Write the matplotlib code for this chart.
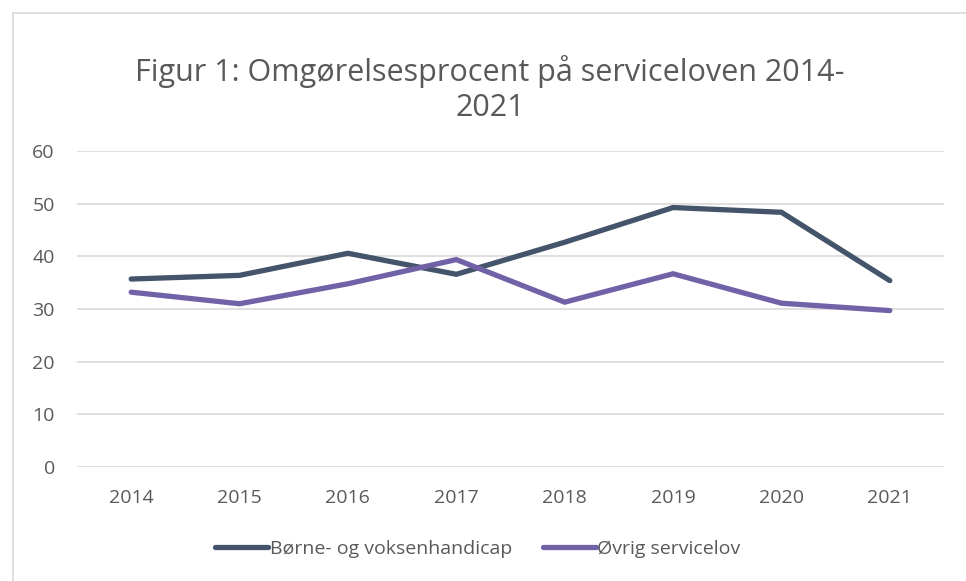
import matplotlib
matplotlib.use("Agg")
import matplotlib.pyplot as plt
from matplotlib.patches import Rectangle

plt.rcParams["font.family"] = ["Open Sans", "DejaVu Sans"]

years = ["2014", "2015", "2016", "2017", "2018", "2019", "2020", "2021"]
borne = [35.7, 36.4, 40.6, 36.6, 42.7, 49.3, 48.4, 35.4]
ovrig = [33.2, 31.0, 34.8, 39.4, 31.3, 36.7, 31.1, 29.7]

labels = ["Børne- og voksenhandicap", "Øvrig servicelov"]
colors = ["#44546A", "#7162A8"]
txt = "#595959"
grid = "#D9D9D9"

fig = plt.figure(figsize=(9.66, 5.81), dpi=100)
ax = fig.add_axes([77 / 966, 1 - 466.7 / 581, (944 - 77) / 966, (466.7 - 151.3) / 581])

# outer chart border
fig.patches.append(Rectangle((13 / 966, -0.1), 1.1, 1 - 13 / 581 + 0.1,
                             transform=fig.transFigure, fill=False,
                             edgecolor=grid, linewidth=1.2))

x = range(len(years))
for vals, lab, c in zip([borne, ovrig], labels, colors):
    ax.plot(x, vals, color=c, linewidth=3.8, solid_capstyle="round",
            solid_joinstyle="miter", label=lab)

ax.set_xlim(-0.5, len(years) - 0.5)
ax.set_ylim(0, 60)
ax.set_yticks(range(0, 61, 10))
ax.set_xticks(list(x))
ax.set_xticklabels(years)
ax.grid(axis="y", color=grid, linewidth=1.2)
ax.set_axisbelow(True)
for s in ax.spines.values():
    s.set_visible(False)
ax.tick_params(length=0, labelsize=14, colors=txt)
ax.tick_params(axis="x", pad=16)
ax.tick_params(axis="y", pad=16)

fig.text(490 / 966, 1 - 89 / 581, "Figur 1: Omgørelsesprocent på serviceloven 2014-\n2021",
         ha="center", va="center", fontsize=22, color=txt, linespacing=1.25)

fig.legend(loc="center", bbox_to_anchor=(478 / 966, 1 - 549 / 581), ncol=2,
           frameon=False, fontsize=14, labelcolor=txt, handlelength=2.7,
           handletextpad=0.1, columnspacing=1.6)

fig.savefig("out.png", dpi=100)
